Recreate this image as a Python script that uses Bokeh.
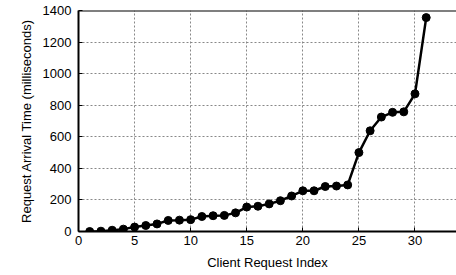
from bokeh.plotting import figure
from bokeh.models import Range1d, FixedTicker, Span
from bokeh.embed import file_html
from bokeh.resources import INLINE

idx = list(range(1, 32))
arrival_ms = [0, 2, 8, 15, 28, 38, 48, 70, 72, 75, 95, 100, 102, 118, 155, 160,
              175, 195, 225, 258, 258, 285, 288, 295, 500, 638, 725, 755, 758,
              872, 1355]
x_ticks = [0, 5, 10, 15, 20, 25, 30]
y_ticks = [0, 200, 400, 600, 800, 1000, 1200, 1400]

p = figure(width=456, height=272, output_backend="svg", toolbar_location=None,
           x_range=Range1d(0, 33.7), y_range=Range1d(0, 1400),
           min_border_left=78, min_border_right=0, min_border_top=10,
           min_border_bottom=41)
p.outline_line_color = None
p.background_fill_color = "white"
p.border_fill_color = "white"

font = "Liberation Sans"
for ax in (p.xaxis[0], p.yaxis[0]):
    ax.axis_line_width = 2
    ax.axis_line_color = "black"
    ax.major_tick_in = 4
    ax.major_tick_out = 0
    ax.minor_tick_line_color = None
    ax.major_label_text_font = font
    ax.major_label_text_font_size = "13px"
    ax.major_label_text_color = "black"
    ax.axis_label_text_font = font
    ax.axis_label_text_font_size = "13px"
    ax.axis_label_text_font_style = "normal"
    ax.axis_label_text_color = "black"

p.xaxis.ticker = FixedTicker(ticks=x_ticks)
p.yaxis.ticker = FixedTicker(ticks=y_ticks)
p.xaxis.axis_label = "Client Request Index"
p.yaxis.axis_label = "Request Arrival Time (milliseconds)"
p.xaxis.axis_label_standoff = 7
p.yaxis.axis_label_standoff = 6
p.xaxis.major_label_standoff = 4
p.yaxis.major_label_standoff = 7

for g in (p.xgrid[0], p.ygrid[0]):
    g.grid_line_color = "#888888"
    g.grid_line_dash = "2 2"
    g.grid_line_width = 1

p.add_layout(Span(location=1400, dimension="width", line_color="black", line_width=2))

p.line(idx, arrival_ms, line_color="black", line_width=2.5)
p.scatter(idx, arrival_ms, size=8, fill_color="black", line_color="black")

open("out.html", "w").write(file_html(p, INLINE))
